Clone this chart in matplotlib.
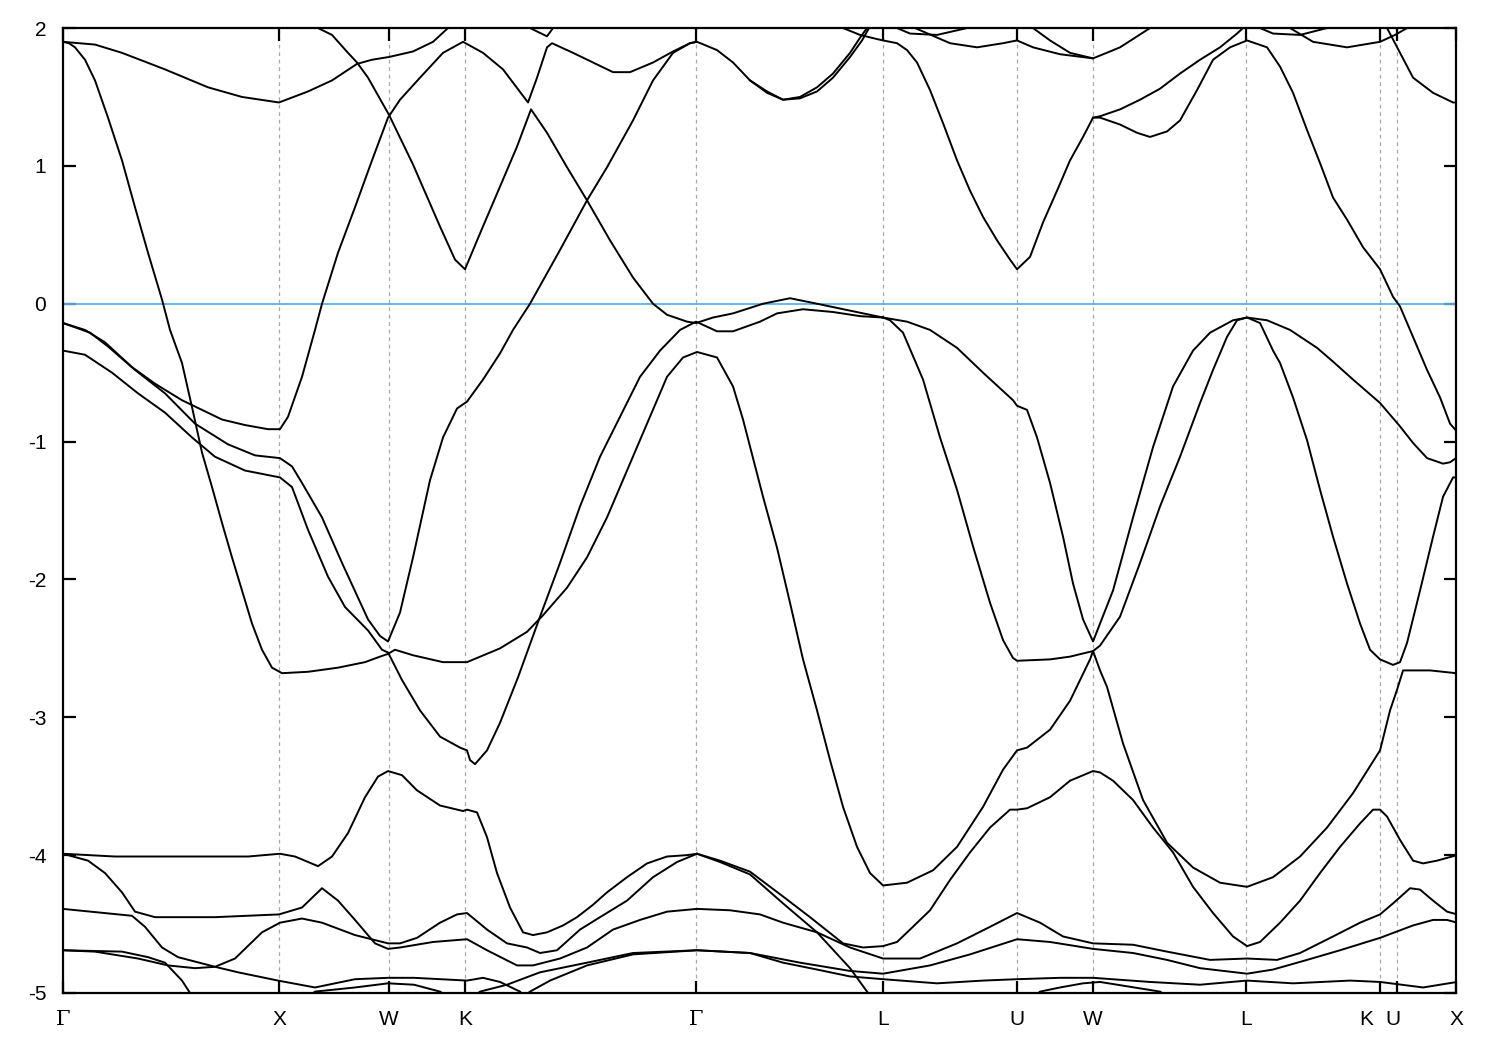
import matplotlib
matplotlib.use('Agg')
import matplotlib.pyplot as plt

# high-symmetry points, position along the k-path (arb. units)
kpt_labels = ['Γ', 'X', 'W', 'K', 'Γ', 'L', 'U', 'W', 'L', 'K', 'U', 'X']
kpt_pos = [0.00, 2.16, 3.26, 4.02, 6.33, 8.20, 9.54, 10.30, 11.83, 13.17, 13.34, 13.93]

# bands: k (path) and E (eV), one pair per traced line
b01_k = [0.00, 0.32, 0.59, 1.02, 1.45, 1.79, 2.16, 2.45, 2.69, 2.94, 3.09, 3.26, 3.50, 3.70, 3.85]
b01_e = [1.90, 1.88, 1.82, 1.70, 1.57, 1.50, 1.46, 1.54, 1.62, 1.74, 1.77, 1.79, 1.83, 1.90, 2.00]

b02_k = [2.55, 2.69, 2.85, 2.94, 3.05, 3.26, 3.50, 3.77, 3.92, 4.02, 4.17, 4.37, 4.54, 4.68, 4.84,
         5.04, 5.24, 5.47, 5.70, 5.90, 6.04, 6.24, 6.33, 6.50, 6.70, 7.00, 7.27, 7.54, 7.87, 8.20]
b02_e = [2.00, 1.95, 1.82, 1.75, 1.64, 1.37, 1.01, 0.56, 0.32, 0.25, 0.51, 0.85, 1.14, 1.41, 1.24,
         0.99, 0.75, 0.46, 0.19, 0.00, -0.08, -0.13, -0.14, -0.10, -0.07, 0.00, 0.04, 0.00, -0.05, -0.10]

b03_k = [0.00, 0.06, 0.12, 0.22, 0.32, 0.45, 0.59, 0.72, 0.85, 0.99, 1.07, 1.19, 1.29, 1.39, 1.49, 1.59,
         1.69, 1.79, 1.89, 1.99, 2.09, 2.19, 2.45, 2.75, 3.02, 3.17, 3.25, 3.32, 3.50, 3.80, 4.04,
         4.37, 4.64, 4.80, 5.04, 5.24, 5.44, 5.64, 5.84, 6.04, 6.20, 6.34, 6.54, 6.70, 6.80, 7.00,
         7.14, 7.27, 7.40, 7.54, 7.67, 7.80, 7.94, 8.07, 8.20, 8.44, 8.70, 8.94, 9.20, 9.40, 9.54,
         9.64, 9.87, 10.07, 10.27, 10.30, 10.37, 10.44, 10.60, 10.80, 11.04, 11.30, 11.57, 11.84, 12.10, 12.37,
         12.64, 12.90, 13.17, 13.27, 13.34, 13.40, 13.67, 13.93]
b03_e = [1.90, 1.89, 1.86, 1.77, 1.62, 1.35, 1.04, 0.70, 0.37, 0.03, -0.19, -0.43, -0.75, -1.08, -1.33, -1.59,
         -1.84, -2.08, -2.32, -2.51, -2.64, -2.68, -2.67, -2.64, -2.60, -2.56, -2.54, -2.51, -2.55, -2.60, -2.60,
         -2.50, -2.38, -2.26, -2.06, -1.84, -1.55, -1.21, -0.87, -0.53, -0.39, -0.35, -0.39, -0.60, -0.84, -1.40,
         -1.77, -2.17, -2.58, -2.95, -3.31, -3.65, -3.94, -4.13, -4.22, -4.20, -4.11, -3.94, -3.65, -3.38, -3.24,
         -3.22, -3.09, -2.88, -2.58, -2.52, -2.66, -2.78, -3.19, -3.60, -3.91, -4.09, -4.20, -4.23, -4.16, -4.01,
         -3.80, -3.55, -3.24, -2.95, -2.80, -2.66, -2.66, -2.68]

b04_k = [0.00, 0.22, 0.49, 0.75, 1.02, 1.29, 1.52, 1.82, 2.17, 2.29, 2.45, 2.65, 2.82, 3.05, 3.19,
         3.25, 3.39, 3.57, 3.77, 3.97, 4.04, 4.07, 4.12, 4.24, 4.37, 4.55, 4.77, 4.97, 5.17, 5.37,
         5.57, 5.77, 5.97, 6.17, 6.33, 6.54, 6.70, 6.97, 7.14, 7.40, 7.70, 7.97, 8.20]
b04_e = [-0.34, -0.37, -0.50, -0.65, -0.79, -0.97, -1.11, -1.21, -1.26, -1.33, -1.64, -1.98, -2.20, -2.37, -2.51,
         -2.53, -2.73, -2.95, -3.14, -3.22, -3.24, -3.31, -3.34, -3.24, -3.04, -2.71, -2.27, -1.88, -1.47, -1.11,
         -0.82, -0.53, -0.34, -0.19, -0.13, -0.20, -0.20, -0.13, -0.07, -0.04, -0.06, -0.09, -0.10]

b05_k = [0.00, 0.22, 0.42, 0.69, 0.92, 1.19, 1.39, 1.59, 1.82, 2.05, 2.17, 2.25, 2.39, 2.52, 2.59,
         2.75, 2.92, 3.09, 3.25, 3.37, 3.57, 3.80, 4.00, 4.20, 4.40, 4.65, 4.74, 4.84, 4.89, 5.10,
         5.30, 5.50, 5.67, 5.90, 6.10, 6.27, 6.33]
b05_e = [-0.14, -0.19, -0.28, -0.46, -0.58, -0.70, -0.77, -0.84, -0.88, -0.91, -0.91, -0.82, -0.53, -0.19, 0.00,
         0.37, 0.70, 1.04, 1.35, 1.48, 1.64, 1.82, 1.90, 1.82, 1.70, 1.46, 1.64, 1.86, 1.89, 1.82,
         1.75, 1.68, 1.68, 1.75, 1.83, 1.89, 1.90]

b06_k = [0.00, 0.27, 0.45, 0.72, 1.02, 1.32, 1.65, 1.92, 2.17, 2.29, 2.39, 2.59, 2.79, 3.05, 3.17,
         3.25, 3.37, 3.50, 3.67, 3.80, 3.94, 4.04, 4.20, 4.37, 4.50, 4.67, 4.97, 5.24, 5.44, 5.70,
         5.90, 6.10, 6.27, 6.34, 6.54, 6.70, 6.87, 7.04, 7.20, 7.37, 7.54, 7.70, 7.87, 7.97, 8.04]
b06_e = [-0.14, -0.21, -0.31, -0.48, -0.65, -0.87, -1.02, -1.10, -1.12, -1.18, -1.30, -1.55, -1.88, -2.29, -2.41,
         -2.45, -2.24, -1.84, -1.28, -0.97, -0.76, -0.71, -0.55, -0.36, -0.19, 0.00, 0.39, 0.75, 0.99, 1.33,
         1.62, 1.82, 1.89, 1.90, 1.84, 1.75, 1.62, 1.54, 1.48, 1.50, 1.57, 1.67, 1.82, 1.93, 2.00]

b07_k = [6.87, 7.04, 7.20, 7.37, 7.54, 7.70, 7.87, 7.99, 8.06]
b07_e = [1.62, 1.53, 1.48, 1.49, 1.54, 1.64, 1.79, 1.91, 2.00]

b08_k = [4.67, 4.84, 4.90]
b08_e = [2.00, 1.94, 2.00]

b09_k = [7.80, 7.97, 8.14, 8.20, 8.34, 8.44, 8.54, 8.67, 8.80, 8.94, 9.07, 9.20, 9.34, 9.47, 9.54,
         9.67, 9.80, 9.94, 10.07, 10.20, 10.30, 10.37, 10.57, 10.77, 10.97, 11.17, 11.37, 11.57, 11.74, 11.80]
b09_e = [2.00, 1.95, 1.92, 1.91, 1.89, 1.84, 1.75, 1.55, 1.31, 1.04, 0.82, 0.63, 0.46, 0.32, 0.25,
         0.34, 0.59, 0.82, 1.04, 1.21, 1.35, 1.36, 1.41, 1.48, 1.56, 1.67, 1.77, 1.86, 1.96, 2.00]

b10_k = [10.30, 10.37, 10.57, 10.74, 10.87, 11.04, 11.17, 11.34, 11.50, 11.67, 11.84, 12.04, 12.17, 12.30,
         12.44, 12.57, 12.70, 12.84, 13.00, 13.17, 13.30, 13.37, 13.47, 13.64, 13.77, 13.87, 13.93]
b10_e = [1.35, 1.35, 1.30, 1.24, 1.21, 1.25, 1.33, 1.55, 1.77, 1.86, 1.91, 1.86, 1.72, 1.53,
         1.26, 1.02, 0.77, 0.61, 0.41, 0.25, 0.05, -0.02, -0.19, -0.48, -0.68, -0.87, -0.92]

b11_k = [8.20, 8.44, 8.67, 8.94, 9.20, 9.50, 9.54, 9.64, 9.74, 9.87, 10.00, 10.10, 10.20, 10.30, 10.37,
         10.50, 10.70, 10.90, 11.10, 11.30, 11.47, 11.70, 11.84, 12.04, 12.27, 12.54, 12.70, 12.90, 13.17, 13.37,
         13.50, 13.64, 13.80, 13.87, 13.93]
b11_e = [-0.10, -0.13, -0.19, -0.32, -0.50, -0.70, -0.74, -0.77, -0.97, -1.30, -1.69, -2.03, -2.29, -2.45, -2.32,
         -2.08, -1.55, -1.04, -0.60, -0.34, -0.21, -0.12, -0.10, -0.12, -0.19, -0.32, -0.42, -0.55, -0.72, -0.89,
         -1.01, -1.12, -1.16, -1.15, -1.12]

b12_k = [8.20, 8.27, 8.40, 8.60, 8.77, 8.94, 9.10, 9.27, 9.40, 9.50, 9.54, 9.87, 10.07, 10.24, 10.30,
         10.37, 10.57, 10.77, 10.97, 11.17, 11.37, 11.50, 11.64, 11.74, 11.84, 11.97, 12.10, 12.17, 12.30, 12.44,
         12.57, 12.70, 12.84, 12.97, 13.07, 13.17, 13.30, 13.37, 13.44, 13.57, 13.70, 13.80, 13.90, 13.93]
b12_e = [-0.10, -0.12, -0.21, -0.55, -0.97, -1.35, -1.76, -2.17, -2.44, -2.57, -2.59, -2.58, -2.56, -2.53, -2.52,
         -2.48, -2.27, -1.88, -1.47, -1.11, -0.72, -0.48, -0.24, -0.12, -0.10, -0.14, -0.34, -0.43, -0.68, -0.99,
         -1.35, -1.69, -2.03, -2.32, -2.51, -2.58, -2.62, -2.60, -2.46, -2.08, -1.69, -1.40, -1.26, -1.26]

b14_k = [8.52, 8.87, 9.14, 9.40, 9.54, 9.70, 9.97, 10.30, 10.47, 10.57, 10.87]
b14_e = [2.00, 1.89, 1.86, 1.89, 1.91, 1.86, 1.81, 1.78, 1.83, 1.86, 2.00]

b15_k = [9.70, 9.87, 10.07, 10.30]
b15_e = [2.00, 1.91, 1.82, 1.78]

b16_k = [8.34, 8.47, 8.74, 9.04]
b16_e = [2.00, 1.96, 1.95, 2.00]

b17_k = [11.97, 12.10, 12.37, 12.64]
b17_e = [2.00, 1.96, 1.95, 2.00]

b18_k = [12.27, 12.50, 12.84, 13.17, 13.32, 13.44]
b18_e = [2.00, 1.90, 1.86, 1.90, 1.95, 2.00]

b19_k = [13.24, 13.37, 13.50, 13.70, 13.90, 13.93]
b19_e = [2.00, 1.82, 1.64, 1.53, 1.46, 1.46]

b20_k = [0.00, 0.52, 0.92, 1.42, 1.85, 2.17, 2.32, 2.55, 2.69, 2.85, 3.02, 3.15, 3.25, 3.39, 3.54,
         3.77, 4.00, 4.04, 4.14, 4.24, 4.34, 4.47, 4.60, 4.70, 4.84, 5.00, 5.14, 5.30, 5.44, 5.64,
         5.84, 6.04, 6.24, 6.34]
b20_e = [-3.99, -4.01, -4.01, -4.01, -4.01, -3.99, -4.01, -4.08, -4.01, -3.84, -3.58, -3.43, -3.39, -3.42, -3.53,
         -3.64, -3.68, -3.67, -3.69, -3.87, -4.13, -4.38, -4.56, -4.58, -4.56, -4.51, -4.45, -4.36, -4.27, -4.16,
         -4.06, -4.01, -4.00, -3.99]

b21_k = [0.00, 0.25, 0.42, 0.59, 0.72, 0.92, 1.52, 2.16, 2.39, 2.59, 2.75, 2.92, 3.12, 3.25, 3.37,
         3.70, 4.04, 4.24, 4.54, 4.70, 4.97, 5.24, 5.50, 5.77, 6.04, 6.34, 6.67, 6.97, 7.20, 7.54,
         7.87, 8.20, 8.57, 8.94, 9.27, 9.54, 9.77, 10.00, 10.30, 10.70, 11.04, 11.47, 11.84, 12.14, 12.37,
         12.70, 12.97, 13.17, 13.30, 13.47, 13.57, 13.70, 13.84, 13.94]
b21_e = [-3.99, -4.04, -4.13, -4.27, -4.41, -4.45, -4.45, -4.43, -4.38, -4.24, -4.33, -4.47, -4.64, -4.68, -4.67,
         -4.63, -4.61, -4.69, -4.80, -4.80, -4.75, -4.67, -4.54, -4.47, -4.41, -4.39, -4.40, -4.43, -4.49, -4.56,
         -4.67, -4.75, -4.75, -4.64, -4.52, -4.42, -4.49, -4.59, -4.64, -4.65, -4.70, -4.76, -4.75, -4.76, -4.71,
         -4.59, -4.49, -4.43, -4.35, -4.24, -4.25, -4.33, -4.41, -4.43]

b22_k = [0.00, 0.69, 0.82, 0.99, 1.15, 1.52, 1.72, 1.99, 2.17, 2.39, 2.59, 2.92, 3.25, 3.37, 3.54,
         3.77, 3.94, 4.04, 4.24, 4.44, 4.64, 4.77, 4.94, 5.17, 5.37, 5.64, 5.90, 6.14, 6.34, 6.57,
         6.87, 7.20, 7.47, 7.80, 8.00, 8.20, 8.34, 8.47, 8.67, 8.87, 9.07, 9.27, 9.47, 9.54, 9.64,
         9.87, 10.07, 10.30, 10.37, 10.50, 10.70, 10.90, 11.10, 11.30, 11.50, 11.70, 11.84, 11.97, 12.17, 12.37,
         12.57, 12.77, 12.97, 13.10, 13.17, 13.24, 13.37, 13.50, 13.60, 13.74, 13.94]
b22_e = [-4.39, -4.44, -4.52, -4.67, -4.74, -4.81, -4.75, -4.56, -4.49, -4.46, -4.49, -4.58, -4.64, -4.64, -4.60,
         -4.49, -4.43, -4.42, -4.54, -4.64, -4.67, -4.71, -4.69, -4.54, -4.45, -4.33, -4.16, -4.05, -3.99, -4.04,
         -4.12, -4.30, -4.45, -4.64, -4.67, -4.66, -4.63, -4.54, -4.40, -4.18, -3.98, -3.80, -3.67, -3.67, -3.66,
         -3.58, -3.46, -3.39, -3.40, -3.46, -3.60, -3.80, -3.98, -4.23, -4.42, -4.59, -4.66, -4.63, -4.49, -4.33,
         -4.13, -3.94, -3.77, -3.67, -3.67, -3.72, -3.89, -4.04, -4.06, -4.04, -4.00]

b23_k = [0.00, 0.59, 0.85, 1.02, 1.19, 1.27, 1.33]
b23_e = [-4.69, -4.70, -4.74, -4.78, -4.91, -5.00, -5.05]

b24_k = [0.00, 0.32, 0.75, 1.05, 1.32, 1.52, 1.75, 2.15, 2.52, 2.92, 3.25, 3.51, 4.04, 4.20, 4.37, 4.57, 4.64]
b24_e = [-4.69, -4.70, -4.75, -4.80, -4.82, -4.81, -4.85, -4.91, -4.96, -4.90, -4.89, -4.89, -4.91, -4.89, -4.92,
         -4.99, -5.05]

b25_k = [2.42, 2.52, 2.92, 3.25, 3.51, 3.77, 3.89]
b25_e = [-5.05, -4.99, -4.96, -4.93, -4.94, -4.99, -5.05]

b26_k = [4.07, 4.17, 4.44, 4.77, 5.24, 5.70, 6.34, 6.87, 7.20, 7.54, 7.87, 8.20, 8.74, 9.20, 9.54,
         9.97, 10.30, 10.87, 11.37, 11.84, 12.30, 12.87, 13.17, 13.60, 13.94]
b26_e = [-5.05, -4.99, -4.94, -4.85, -4.78, -4.71, -4.69, -4.71, -4.78, -4.83, -4.88, -4.90, -4.93, -4.91, -4.90,
         -4.89, -4.89, -4.92, -4.94, -4.91, -4.93, -4.91, -4.92, -4.96, -4.92]

b27_k = [4.57, 4.67, 4.87, 5.24, 5.70, 6.34, 6.87, 7.37, 7.87, 8.20, 8.67, 9.07, 9.54, 9.87, 10.30,
         10.70, 11.04, 11.37, 11.84, 12.10, 12.44, 12.77, 13.17, 13.50, 13.70, 13.84, 13.94]
b27_e = [-5.05, -4.99, -4.91, -4.80, -4.72, -4.69, -4.71, -4.78, -4.84, -4.86, -4.80, -4.72, -4.61, -4.63, -4.68,
         -4.71, -4.76, -4.82, -4.86, -4.83, -4.76, -4.69, -4.60, -4.51, -4.47, -4.47, -4.49]

b28_k = [9.67, 9.77, 9.97, 10.20, 10.37, 10.97, 11.09]
b28_e = [-5.05, -4.99, -4.96, -4.93, -4.92, -4.99, -5.05]

b30_k = [6.34, 6.57, 6.87, 7.20, 7.54, 7.87, 8.04, 8.10]
b30_e = [-3.99, -4.05, -4.14, -4.35, -4.56, -4.82, -4.99, -5.05]

bands = [
    (b01_k, b01_e), (b02_k, b02_e), (b03_k, b03_e), (b04_k, b04_e), (b05_k, b05_e),
    (b06_k, b06_e), (b07_k, b07_e), (b08_k, b08_e), (b09_k, b09_e), (b10_k, b10_e),
    (b11_k, b11_e), (b12_k, b12_e), (b14_k, b14_e), (b15_k, b15_e), (b16_k, b16_e),
    (b17_k, b17_e), (b18_k, b18_e), (b19_k, b19_e), (b20_k, b20_e), (b21_k, b21_e),
    (b22_k, b22_e), (b23_k, b23_e), (b24_k, b24_e), (b25_k, b25_e), (b26_k, b26_e),
    (b27_k, b27_e), (b28_k, b28_e), (b30_k, b30_e),
]

plt.rcParams['font.family'] = ['Liberation Sans', 'DejaVu Sans']

fig = plt.figure(figsize=(15, 10.5), dpi=100)
ax = fig.add_axes([0.042, 0.0543, 0.9287, 0.919])

# dashed guides at the inner high-symmetry points
for kp in kpt_pos[1:-1]:
    ax.axvline(kp, color='#a8a8a8', lw=0.9, ls=(0, (3, 3)), zorder=1)

# Fermi level
ax.axhline(0.0, color='#56b4e9', lw=1.3, zorder=2)

for k, e in bands:
    ax.plot(k, e, color='black', lw=1.4, solid_joinstyle='round', zorder=3)

ax.set_xlim(kpt_pos[0], kpt_pos[-1])
ax.set_ylim(-5, 2)
ax.set_xticks(kpt_pos)
# K and U near the end sit close together: draw those two labels by hand, nudged left
shifted = {9: -10, 10: -3}
ax.set_xticklabels(['' if i in shifted else lab for i, lab in enumerate(kpt_labels)])
ax.set_yticks(range(-5, 3))
ax.set_yticklabels([str(v) for v in range(-5, 3)])

for lab in ax.get_xticklabels():
    if lab.get_text() == 'Γ':
        lab.set_family('DejaVu Serif')

tick_pad = 12
for i, dx in shifted.items():
    ax.annotate(kpt_labels[i], xy=(kpt_pos[i], 0), xycoords=('data', 'axes fraction'),
                xytext=(dx, -tick_pad), textcoords='offset points',
                ha='center', va='top', fontsize=15)

ax.tick_params(axis='both', direction='in', length=9, width=1.6, top=True, right=True, labelsize=15)
ax.tick_params(axis='x', pad=tick_pad)
ax.tick_params(axis='y', pad=12)
for sp in ax.spines.values():
    sp.set_linewidth(1.6)

fig.savefig('out.png', dpi=100)
